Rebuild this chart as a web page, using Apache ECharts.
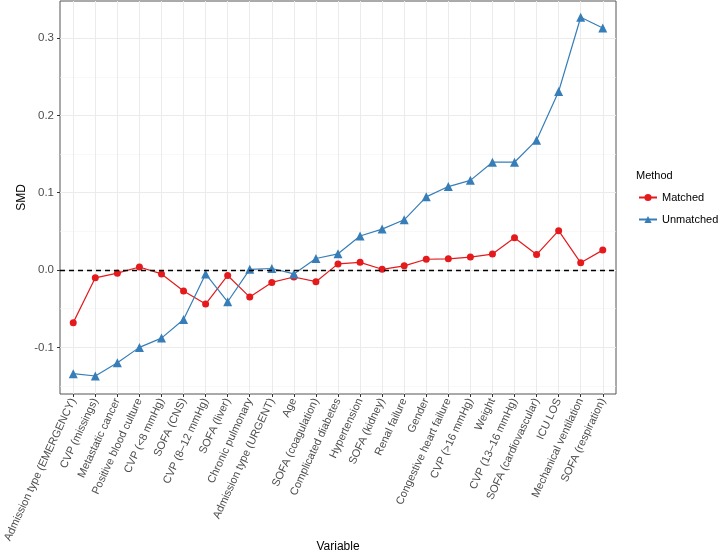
<!DOCTYPE html>
<html><head><meta charset="utf-8">
<script src="https://cdn.jsdelivr.net/npm/echarts@6/dist/echarts.min.js"></script>
<style>html,body{margin:0;padding:0;background:#fff}#c{width:720px;height:553px}</style>
</head><body><div id="c"></div>
<script>
const categories = [
  "Admission type (EMERGENCY)", "CVP (missings)", "Metastatic cancer", "Positive blood culture",
  "CVP (<8 mmHg)", "SOFA (CNS)", "CVP (8–12 mmHg)", "SOFA (liver)", "Chronic pulmonary",
  "Admission type (URGENT)", "Age", "SOFA (coagulation)", "Complicated diabetes", "Hypertension",
  "SOFA (kidney)", "Renal failure", "Gender", "Congestive heart failure", "CVP (>16 mmHg)",
  "Weight", "CVP (13–16 mmHg)", "SOFA (cardiovascular)", "ICU LOS", "Mechanical ventilation",
  "SOFA (respiration)"
];
const matched = [
  -0.068, -0.010, -0.004, 0.004, -0.005, -0.027, -0.044, -0.007, -0.035,
  -0.016, -0.009, -0.015, 0.008, 0.010, 0.001, 0.0055, 0.014, 0.0145, 0.0168,
  0.0207, 0.0417, 0.020, 0.051, 0.0094, 0.0258
];
const unmatched = [
  -0.134, -0.137, -0.120, -0.100, -0.088, -0.064, -0.005, -0.041, 0.001,
  0.002, -0.005, 0.015, 0.021, 0.044, 0.053, 0.065, 0.0947, 0.108, 0.116,
  0.1395, 0.1395, 0.168, 0.231, 0.327, 0.313
];
const yMajorTicks = [-0.1, 0.0, 0.1, 0.2, 0.3];
const yMinorTicks = [-0.15, -0.05, 0.05, 0.15, 0.25];
const seriesNames = ["Matched", "Unmatched"];

const xIdx = categories.map((_, i) => i);
const chart = echarts.init(document.getElementById('c'), null, {renderer: 'canvas'});
const FONT = '"Liberation Sans", Arial, Helvetica, sans-serif';
const yMin = -0.1603, yMax = 0.348;

chart.setOption({
  animation: false,
  backgroundColor: '#fff',
  textStyle: {fontFamily: FONT},
  title: {
    text: 'Method', left: 631, top: 165,
    textStyle: {fontSize: 11, fontWeight: 'normal', color: '#000', fontFamily: FONT}
  },
  legend: {
    orient: 'vertical', left: 633, top: 187,
    itemWidth: 18, itemHeight: 9, itemGap: 11,
    textStyle: {fontSize: 11, color: '#000', fontFamily: FONT},
    data: seriesNames
  },
  grid: {
    left: 60, right: 104, top: 1, bottom: 159,
    containLabel: false, outerBoundsMode: 'none',
    show: true, borderColor: '#555', borderWidth: 1, backgroundColor: 'transparent'
  },
  xAxis: {
    type: 'value', min: -0.6, max: categories.length - 0.4,
    name: 'Variable', nameLocation: 'middle', nameGap: 147, nameMoveOverlap: false,
    nameTextStyle: {fontSize: 12, color: '#000', fontFamily: FONT},
    axisLine: {show: false, onZero: false},
    axisTick: {show: true, length: 3, customValues: xIdx, lineStyle: {color: '#333'}},
    axisLabel: {
      customValues: xIdx, rotate: 65, fontSize: 11, color: '#4d4d4d', margin: 5,
      fontFamily: FONT,
      formatter: v => categories[Math.round(v)]
    },
    splitLine: {show: true, lineStyle: {color: '#ebebeb', width: 1}}
  },
  yAxis: [{
    type: 'value', min: yMin, max: yMax,
    name: 'SMD', nameLocation: 'middle', nameGap: 32, nameRotate: 90, nameMoveOverlap: false,
    nameTextStyle: {fontSize: 12, color: '#000', fontFamily: FONT},
    axisLine: {show: false, onZero: false},
    axisTick: {show: true, length: 3, customValues: yMajorTicks, lineStyle: {color: '#333'}},
    axisLabel: {
      customValues: yMajorTicks, fontSize: 11.5, color: '#4d4d4d', margin: 6, fontFamily: FONT,
      formatter: v => v.toFixed(1)
    },
    splitLine: {show: true, lineStyle: {color: '#ebebeb', width: 1}}
  }, {
    type: 'value', min: yMin, max: yMax, position: 'left',
    axisLine: {show: false, onZero: false},
    axisTick: {show: false, customValues: yMinorTicks},
    axisLabel: {show: false, customValues: yMinorTicks},
    splitLine: {show: true, lineStyle: {color: '#f3f3f3', width: 0.6}}
  }],
  series: [{
    name: seriesNames[0], type: 'line', yAxisIndex: 0,
    data: matched.map((v, i) => [i, v]),
    symbol: 'circle', symbolSize: 7,
    itemStyle: {color: '#E41A1C'},
    lineStyle: {color: '#E41A1C', width: 1.2},
    z: 3,
    markLine: {
      silent: true, symbol: 'none', label: {show: false},
      lineStyle: {color: '#000', type: [5, 4], width: 1.3},
      data: [{yAxis: 0}]
    }
  }, {
    name: seriesNames[1], type: 'line', yAxisIndex: 0,
    data: unmatched.map((v, i) => [i, v]),
    symbol: 'triangle', symbolSize: 9,
    itemStyle: {color: '#377EB8'},
    lineStyle: {color: '#377EB8', width: 1.2},
    z: 4
  }]
});
</script></body></html>
